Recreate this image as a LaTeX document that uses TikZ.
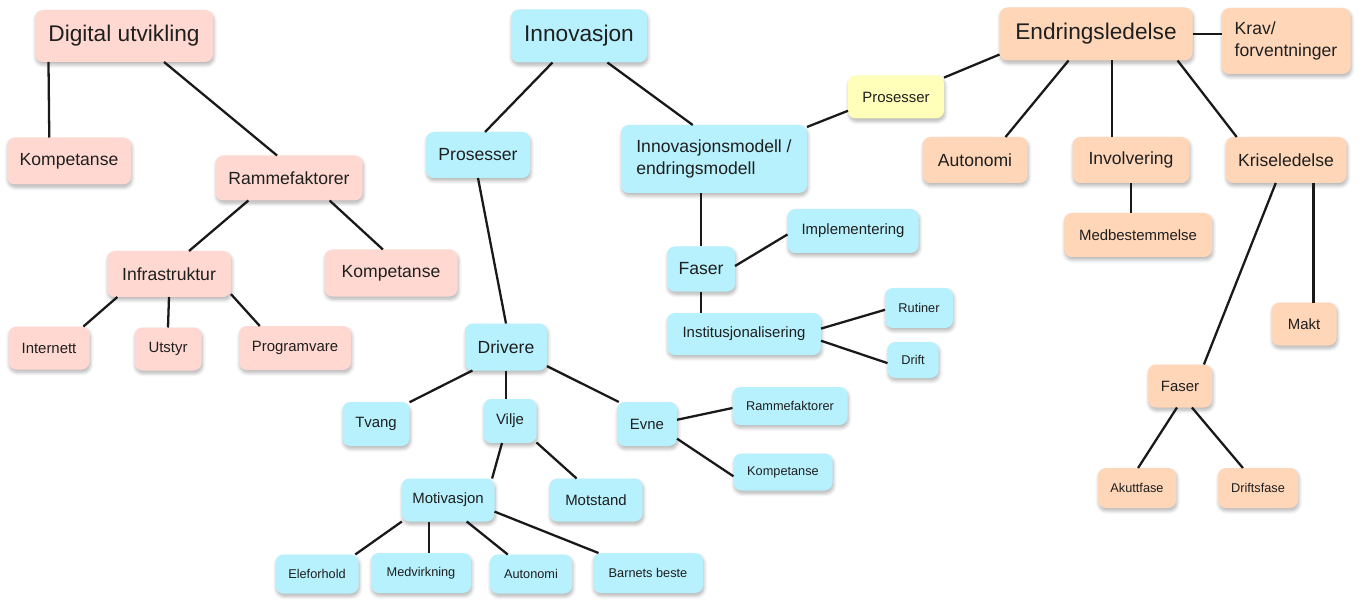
\documentclass[tikz,border=0pt]{standalone}
\usepackage{fontspec}
\setmainfont{Liberation Sans}
\usetikzlibrary{shadows.blur}
\definecolor{pinkfill}{HTML}{FFD9D1}
\definecolor{bluefill}{HTML}{B6F1FD}
\definecolor{peachfill}{HTML}{FFD6B8}
\definecolor{yellowfill}{HTML}{FFFFBA}
\tikzset{
  box/.style={rounded corners=4.5pt, inner sep=2pt, outer sep=0pt, text=black!88,
    blur shadow={shadow xshift=0.5pt, shadow yshift=-1.6pt, shadow blur radius=2pt, shadow blur steps=6, shadow opacity=30}},
  pinkbox/.style={box, fill=pinkfill},
  bluebox/.style={box, fill=bluefill},
  peachbox/.style={box, fill=peachfill},
  yellowbox/.style={box, fill=yellowfill},
  sz/.style 2 args={minimum width=#1*0.02cm, minimum height=#2*0.02cm},
  big/.style={font=\fontsize{12.9}{15}\selectfont},
  mid/.style={font=\fontsize{10}{12.5}\selectfont},
  sml/.style={font=\fontsize{8.5}{10}\selectfont},
  tiny/.style={font=\fontsize{7.25}{9}\selectfont},
  link/.style={line width=1.3pt, draw=black!90},
}
\begin{document}
\begin{tikzpicture}[x=0.02cm, y=-0.02cm]
\useasboundingbox (0,0) rectangle (1359,601);
% Digital utvikling
\node[pinkbox, big, sz={178}{52}] (dig) at (124,36) {Digital utvikling};
\node[pinkbox, mid, sz={124}{47}] (komp1) at (69,161) {Kompetanse};
\node[pinkbox, mid, sz={147}{45}] (ramme) at (289,178) {Rammefaktorer};
\node[pinkbox, mid, sz={124}{46}] (infra) at (169,274) {Infrastruktur};
\node[pinkbox, mid, sz={133}{47}] (komp2) at (391,273) {Kompetanse};
\node[pinkbox, sml, sz={81}{43}] (inet) at (49,348) {Internett};
\node[pinkbox, sml, sz={67}{43}] (utstyr) at (168,349) {Utstyr};
\node[pinkbox, sml, sz={112}{44}] (prog) at (295,348) {Programvare};
\draw[link] (dig.199) -- (komp1.130);
\draw[link] (dig.-33) -- (ramme.118);
\draw[link] (ramme.209) -- (infra.49);
\draw[link] (ramme.-29) -- (komp2.109);
\draw[link] (infra.204) -- (inet.32);
\draw[link] (infra.south) -- (utstyr.north);
\draw[link] (infra.-18) -- (prog.148);
% Innovasjon
\node[bluebox, big, sz={136}{53}] (inno) at (579,36) {Innovasjon};
\node[bluebox, mid, sz={104}{46}] (pros1) at (478,155) {Prosesser};
\node[bluebox, mid, sz={186}{68}, align=left] (imod) at (714,159) {Innovasjonsmodell /\\endringsmodell};
\node[bluebox, mid, sz={68}{45}] (faser1) at (701,269) {Faser};
\node[bluebox, sml, sz={131}{44}] (impl) at (853,231) {Implementering};
\node[bluebox, sml, sz={154}{42}] (inst) at (744,334) {Institusjonalisering};
\node[bluebox, tiny, sz={68}{40}] (rutiner) at (919,308) {Rutiner};
\node[bluebox, tiny, sz={51}{36}] (drift) at (913,360) {Drift};
\draw[link] (inno.225) -- (pros1.73);
\draw[link] (inno.-43) -- (imod.122);
\draw[link] (faser1.north) -- (faser1.north |- imod.south);
\draw[link] (faser1.5) -- (impl.183);
\draw[link] (faser1.south) -- (faser1.south |- inst.north);
\draw[link] (inst.4) -- (rutiner.183);
\draw[link] (inst.-5) -- (drift.187);
% Drivere
\node[bluebox, mid, sz={82}{47}] (driv) at (506,347) {Drivere};
\node[bluebox, sml, sz={67}{44}] (tvang) at (376,424) {Tvang};
\node[bluebox, sml, sz={53}{44}] (vilje) at (510,421) {Vilje};
\node[bluebox, sml, sz={60}{44}] (evne) at (647,424) {Evne};
\node[bluebox, sml, sz={93}{43}] (motiv) at (448,500) {Motivasjon};
\node[bluebox, sml, sz={93}{43}] (motst) at (596,500) {Motstand};
\node[bluebox, tiny, sz={115}{38}] (ramme2) at (790,406) {Rammefaktorer};
\node[bluebox, tiny, sz={99}{37}] (komp3) at (783,472) {Kompetanse};
\node[bluebox, tiny, sz={83}{39}] (elef) at (317,574) {Eleforhold};
\node[bluebox, tiny, sz={100}{40}] (medv) at (421,573) {Medvirkning};
\node[bluebox, tiny, sz={82}{39}] (auto2) at (531,574) {Autonomi};
\node[bluebox, tiny, sz={110}{40}] (barn) at (648,573) {Barnets beste};
\draw[link] (pros1.south) -- (driv.north);
\draw[link] (driv.215) -- (tvang.33);
\draw[link] (driv.south) -- (driv.south |- vilje.north);
\draw[link] (driv.-25) -- (evne.142);
\draw[link] (vilje.250) -- (motiv.26);
\draw[link] (vilje.-39) -- (motst.132);
\draw[link] (evne.8) -- (ramme2.182);
\draw[link] (evne.-26) -- (komp3.185);
\draw[link] (motiv.205) -- (elef.27);
\draw[link] (motiv.228) -- (motiv.228 |- medv.north);
\draw[link] (motiv.-49) -- (auto2.140);
\draw[link] (motiv.-14) -- (barn.158);
% Endringsledelse
\node[peachbox, big, sz={193}{53}] (endr) at (1096,34) {Endringsledelse};
\node[peachbox, mid, sz={129}{66}, align=left] (krav) at (1286,41) {Krav/\\forventninger};
\node[yellowbox, sml, sz={96}{43}] (pros2) at (896,97) {Prosesser};
\node[peachbox, mid, sz={105}{46}] (auto1) at (975,160) {Autonomi};
\node[peachbox, mid, sz={117}{46}] (invol) at (1131,160) {Involvering};
\node[peachbox, mid, sz={121}{46}] (krise) at (1286,160) {Kriseledelse};
\node[peachbox, sml, sz={148}{44}] (medb) at (1138,235) {Medbestemmelse};
\node[peachbox, sml, sz={65}{43}] (makt) at (1304,324) {Makt};
\node[peachbox, sml, sz={64}{43}] (faser2) at (1180,386) {Faser};
\node[peachbox, tiny, sz={78}{40}] (akutt) at (1137,488) {Akuttfase};
\node[peachbox, tiny, sz={80}{40}] (drifts) at (1258,488) {Driftsfase};
\draw[link] (imod.19) -- (pros2.196);
\draw[link] (endr.192) -- (pros2.22);
\draw[link] (endr.east) -- (endr.east -| krav.west);
\draw[link] (endr.224) -- (auto1.37);
\draw[link] (endr.-59) -- (endr.-59 |- invol.north);
\draw[link] (endr.-18) -- (krise.155);
\draw[link] (invol.south) -- (invol.south |- medb.north);
\draw[link] (krise.246) -- (faser2.42);
\draw[link] (krise.-40) -- (krise.-40 |- makt.north);
\draw[link] (faser2.262) -- (akutt.87);
\draw[link] (faser2.-61) -- (drifts.127);
\end{tikzpicture}
\end{document}
